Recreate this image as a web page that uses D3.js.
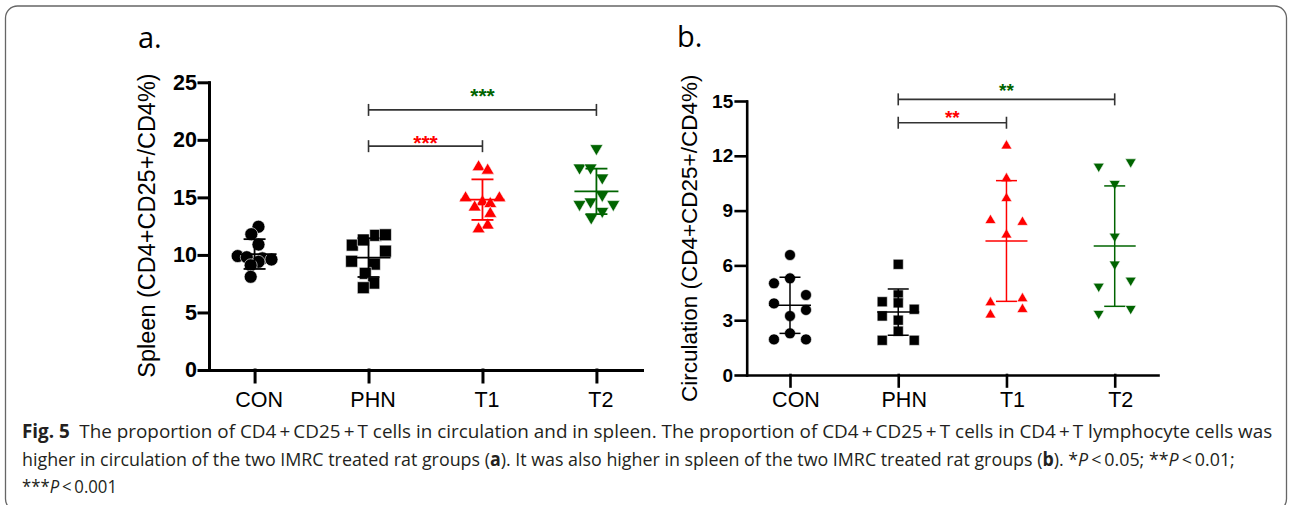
<!DOCTYPE html>
<html>
<head>
<meta charset="utf-8">
<script src="https://cdn.jsdelivr.net/npm/d3@7"></script>
<style>
  body { margin: 0; background: #fff; }
  svg { display: block; }
</style>
</head>
<body>
<svg id="fig" width="1290" height="505"></svg>
<script>
// group names on the x axis
var groups = ["CON", "PHN", "T1", "T2"];

// panel a: spleen CD4+CD25+/CD4 (%)
var spleenCON = [12.45, 11.8, 10.9, 9.9, 9.8, 9.7, 9.6, 9.4, 9.1, 8.1];
var spleenPHN = [11.7, 11.75, 10.85, 11.3, 10.33, 9.45, 9.2, 8.4, 7.55, 7.15];
var spleenT1 = [17.8, 17.5, 15.1, 15.1, 14.76, 14.6, 14.3, 13.74, 12.73, 12.4];
var spleenT2 = [19.1, 17.42, 17.42, 16.55, 15.04, 14.24, 14.47, 14.24, 13.65, 13.08];
// horizontal scatter of the points, in marker widths
var spleenCONdx = [0.3, -0.25, 0.3, -1.3, -0.6, 0.6, 1.3, 0.3, -0.3, -0.3];
var spleenPHNdx = [0.55, 1.3, -1.25, -0.4, 1.3, -1.3, 0.45, -0.25, 0.4, -0.4];
var spleenT1dx = [-0.3, 0.4, -1.3, 1.3, 0, 0.6, -0.6, 0.6, 0.4, -0.3];
var spleenT2dx = [0, -1.3, -0.45, 0.45, 0.45, -1.3, -0.45, 1.3, 0.45, -0.4];
var spleenTicks = [0, 5, 10, 15, 20, 25];

// panel b: circulation CD4+CD25+/CD4 (%)
var circCON = [6.57, 5.02, 5.29, 4.38, 3.92, 3.56, 3.23, 2.28, 1.95, 1.95];
var circPHN = [6.06, 4.38, 3.95, 4.01, 3.6, 3.23, 3.0, 2.4, 1.9, 1.9];
var circT1 = [12.63, 10.84, 9.75, 8.55, 8.45, 7.76, 4.05, 4.27, 3.38, 3.68];
var circT2 = [11.34, 11.58, 10.39, 7.51, 5.98, 4.77, 5.1, 3.28, 3.55];
var circCONdx = [0, -1, 0, 1, -1, 1, 0, 0, -1, 1];
var circPHNdx = [0, 0, 0, -1, 1, -1, 0, 0, -1, 1];
var circT1dx = [0, 0, 0, -1, 1, 0, -1, 1, -1, 1];
var circT2dx = [-1, 1, 0, 0, 0, -1, 1, -1, 1];
var circTicks = [0, 3, 6, 9, 12, 15];

var markers = ["circle", "square", "up", "down"];
var colors = ["#000000", "#000000", "#ff0000", "#006400"];

var svg = d3.select("#fig");

// border round the whole figure
svg.append("rect")
  .attr("x", 5.5).attr("y", 6)
  .attr("width", 1281).attr("height", 505)
  .attr("rx", 12)
  .attr("fill", "none")
  .attr("stroke", "#666")
  .attr("stroke-width", 1.3);

var panels = [
  {
    letter: "a.", lx: 138, ly: 48,
    left: 209, right: 642, bottom: 370, top: 82.3, max: 25,
    ticks: spleenTicks, tickFont: 21.5, yTick: 10, yPad: 2, xTick: 12, xPad: 9.5, axisW: 3,
    catFont: 21.5, catDx: 4,
    title: "Spleen (CD4+CD25+/CD4%)", tx: 155, ty: 225.5, titleFont: 23.5,
    series: [spleenCON, spleenPHN, spleenT1, spleenT2],
    dx: [spleenCONdx, spleenPHNdx, spleenT1dx, spleenT2dx],
    size: 13, spread: 13, cap: 11, half: 22, barW: 1.8,
    brackets: [
      { from: "PHN", to: "T2", at: 22.6, star: "***", sy: 24.2, color: "#006400" },
      { from: "PHN", to: "T1", at: 19.45, star: "***", sy: 20.2, color: "#ff0000" }
    ],
    starFont: 21
  },
  {
    letter: "b.", lx: 677, ly: 47,
    left: 746.7, right: 1158, bottom: 375, top: 101, max: 15,
    ticks: circTicks, tickFont: 19, yTick: 11, yPad: 2.5, xTick: 11.5, xPad: 5.5, axisW: 2.6,
    catFont: 21.5, catDx: 5.5,
    title: "Circulation (CD4+CD25+/CD4%)", tx: 697, ty: 238.3, titleFont: 22.5,
    series: [circCON, circPHN, circT1, circT2],
    dx: [circCONdx, circPHNdx, circT1dx, circT2dx],
    size: 11, spread: 16, cap: 10.5, half: 21, barW: 1.5,
    brackets: [
      { from: "PHN", to: "T2", at: 15.09, star: "**", sy: 15.82, color: "#006400" },
      { from: "PHN", to: "T1", at: 13.81, star: "**", sy: 14.34, color: "#ff0000" }
    ],
    starFont: 19
  }
];

function markerPath(type, s) {
  var h = s / 2;
  if (type === "up") {
    var th = s * 0.85 / 2;
    return "M0," + (-th) + "L" + h + "," + th + "L" + (-h) + "," + th + "Z";
  }
  if (type === "down") {
    var td = s * 0.85 / 2;
    return "M0," + td + "L" + h + "," + (-td) + "L" + (-h) + "," + (-td) + "Z";
  }
  if (type === "square") {
    var q = s * 0.46;
    return "M" + (-q) + "," + (-q) + "H" + q + "V" + q + "H" + (-q) + "Z";
  }
  var r = s / 2;
  return "M" + r + ",0A" + r + "," + r + " 0 1,1 " + (-r) + ",0A" + r + "," + r + " 0 1,1 " + r + ",0Z";
}

panels.forEach(function(p) {
  var x = d3.scalePoint().domain(groups).range([p.left, p.right]).padding(0.4);
  var y = d3.scaleLinear().domain([0, p.max]).range([p.bottom, p.top]);
  var g = svg.append("g");

  // panel letter
  g.append("text")
    .attr("x", p.lx).attr("y", p.ly)
    .attr("font-family", "'Open Sans', sans-serif")
    .attr("font-size", 29)
    .text(p.letter);

  // points
  p.series.forEach(function(vals, i) {
    g.append("g").selectAll("path")
      .data(vals)
      .enter()
      .append("path")
      .attr("d", markerPath(markers[i], p.size))
      .attr("transform", function(d, j) {
        return "translate(" + (x(groups[i]) + p.dx[i][j] * p.spread) + "," + y(d) + ")";
      })
      .attr("fill", colors[i])
      .attr("stroke", "#fff")
      .attr("stroke-width", 0.6);
  });

  // mean and SD bars
  p.series.forEach(function(vals, i) {
    var m = d3.mean(vals), sd = d3.deviation(vals);
    var cx = x(groups[i]);
    var eb = g.append("g").attr("stroke", colors[i]).attr("stroke-width", p.barW);
    eb.append("line").attr("x1", cx).attr("x2", cx).attr("y1", y(m + sd)).attr("y2", y(m - sd));
    eb.append("line").attr("x1", cx - p.half).attr("x2", cx + p.half).attr("y1", y(m)).attr("y2", y(m));
    [m + sd, m - sd].forEach(function(v) {
      eb.append("line").attr("x1", cx - p.cap).attr("x2", cx + p.cap).attr("y1", y(v)).attr("y2", y(v));
    });
  });

  // axes
  var yAxis = g.append("g")
    .attr("transform", "translate(" + p.left + ",0)")
    .call(d3.axisLeft(y).tickValues(p.ticks).tickSize(p.yTick).tickSizeOuter(0).tickPadding(p.yPad));
  yAxis.selectAll("text")
    .attr("font-family", "'Liberation Sans', Arial, sans-serif")
    .attr("font-weight", "bold")
    .attr("font-size", p.tickFont)
    .attr("fill", "#000");

  var xAxis = g.append("g")
    .attr("transform", "translate(0," + p.bottom + ")")
    .call(d3.axisBottom(x).tickSize(p.xTick).tickSizeOuter(0).tickPadding(p.xPad));
  xAxis.selectAll("text")
    .attr("font-family", "'Liberation Sans', Arial, sans-serif")
    .attr("font-size", p.catFont)
    .attr("dx", p.catDx)
    .attr("fill", "#000");

  g.selectAll(".domain, .tick line")
    .attr("stroke", "#000")
    .attr("stroke-width", p.axisW)
    .attr("stroke-linecap", "square");

  // y axis title
  g.append("text")
    .attr("transform", "translate(" + p.tx + "," + p.ty + ") rotate(-90)")
    .attr("text-anchor", "middle")
    .attr("font-family", "'Liberation Sans', Arial, sans-serif")
    .attr("font-size", p.titleFont)
    .text(p.title);

  // significance brackets
  p.brackets.forEach(function(b) {
    var x1 = x(b.from), x2 = x(b.to), by = y(b.at);
    var bg = g.append("g").attr("stroke", "#333").attr("stroke-width", 1.6);
    bg.append("line").attr("x1", x1).attr("x2", x2).attr("y1", by).attr("y2", by);
    [x1, x2].forEach(function(xx) {
      bg.append("line").attr("x1", xx).attr("x2", xx).attr("y1", by - 6).attr("y2", by + 6);
    });
    g.append("text")
      .attr("x", (x1 + x2) / 2).attr("y", y(b.sy))
      .attr("dy", "0.57em")
      .attr("text-anchor", "middle")
      .attr("font-family", "'Liberation Sans', Arial, sans-serif")
      .attr("font-weight", "bold")
      .attr("font-size", p.starFont)
      .attr("fill", b.color)
      .text(b.star);
  });
});

// caption: each line is squeezed sideways to the width of the original
var cap = svg.append("g")
  .attr("font-family", "'Open Sans', sans-serif")
  .attr("font-size", 18.7)
  .attr("fill", "#231f20");

function captionLine(y, width, parts) {
  var t = cap.append("text").attr("x", 0).attr("y", 0);
  parts.forEach(function(pt) {
    var s = t.append("tspan").text(pt[0]);
    if (pt[1] === "b") s.attr("font-weight", "bold");
    if (pt[1] === "i") s.attr("font-style", "italic");
  });
  var natural = t.node().getComputedTextLength();
  t.attr("transform", "translate(22," + y + ") scale(" + (width / natural) + ",1)");
}

captionLine(438, 1250, [
  ["Fig. 5", "b"],
  ["\u2002The proportion of CD4\u2009+\u2009CD25\u2009+\u2009T cells in circulation and in spleen. The proportion of CD4\u2009+\u2009CD25\u2009+\u2009T cells in CD4\u2009+\u2009T lymphocyte cells was"]
]);
captionLine(465.5, 1213, [
  ["higher in circulation of the two IMRC treated rat groups ("],
  ["a", "b"],
  ["). It was also higher in spleen of the two IMRC treated rat groups ("],
  ["b", "b"],
  ["). *"],
  ["P", "i"],
  ["\u2009<\u20090.05; **"],
  ["P", "i"],
  ["\u2009<\u20090.01;"]
]);
captionLine(493, 95, [
  ["***"],
  ["P", "i"],
  ["\u2009<\u20090.001"]
]);
</script>
</body>
</html>
